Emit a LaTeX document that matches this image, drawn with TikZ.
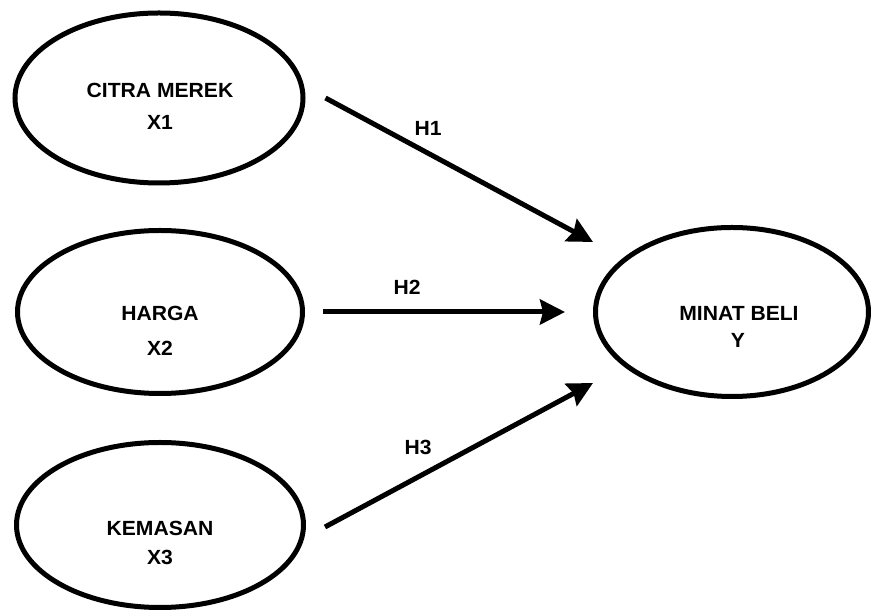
\documentclass[tikz,border=0pt]{standalone}
\usepackage{fontspec}
\setmainfont{Liberation Sans}[FakeStretch=1.03]
\usetikzlibrary{shapes.geometric,arrows.meta}
\begin{document}
\begin{tikzpicture}[x=1pt,y=1pt,
  var/.style={draw=black,line width=5pt,ellipse,inner sep=0pt},
  lbl/.style={font=\fontsize{20.5}{23}\selectfont\bfseries,inner sep=0pt},
  conn/.style={line width=5pt,-{Stealth[length=25pt,width=25pt,inset=3pt]}}]
\useasboundingbox (0,0) rectangle (871,610);
\node[var,minimum width=288pt,minimum height=170pt] (e1) at (159,512) {};
\node[var,minimum width=285pt,minimum height=163pt] (e2) at (160,298) {};
\node[var,minimum width=287pt,minimum height=165pt] (e3) at (160,85) {};
\node[var,minimum width=273pt,minimum height=169pt] (e4) at (732,298) {};
\node[lbl] (t1a) at (160,520) {CITRA MEREK};
\node[lbl] (t1b) at (160,488) {X1};
\node[lbl] (t2a) at (160,297) {HARGA};
\node[lbl] (t2b) at (160,262) {X2};
\node[lbl] (t3a) at (160,82) {KEMASAN};
\node[lbl] (t3b) at (160,53) {X3};
\node[lbl] (t4a) at (739,297) {MINAT BELI};
\node[lbl] (t4b) at (738,270) {Y};
\draw[conn] ([xshift=20pt]e1.east) -- ([yshift=70pt]e4.west);
\draw[conn] ([xshift=18pt]e2.east) -- ([xshift=-28pt]e4.west);
\draw[conn] ([xshift=19pt,yshift=-2pt]e3.east) -- ([yshift=-71pt]e4.west);
\node[lbl] (h1) at (428,482) {H1};
\node[lbl] (h2) at (407,323) {H2};
\node[lbl] (h3) at (418,163) {H3};
\end{tikzpicture}
\end{document}
